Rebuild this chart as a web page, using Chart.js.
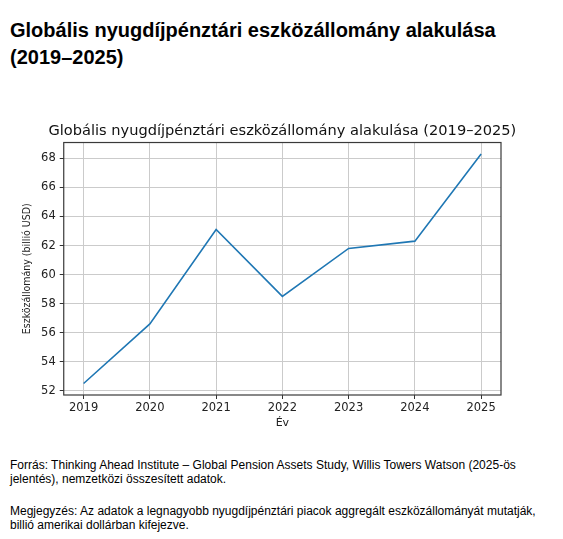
<!DOCTYPE html>
<html lang="hu">
<head>
<meta charset="utf-8">
<title>Globális nyugdíjpénztári eszközállomány alakulása (2019–2025)</title>
<script src="https://cdn.jsdelivr.net/npm/chart.js@4.4.1/dist/chart.umd.min.js"></script>
<style>
    html, body {
        margin: 0;
        padding: 0;
        background: #fff;
    }
    body {
        width: 563px;
        height: 539px;
        position: relative;
        overflow: hidden;
        font-family: "Liberation Sans", Arial, sans-serif;
        color: #000;
    }
    h1 {
        position: absolute;
        left: 10px;
        top: 17px;
        width: 545px;
        margin: 0;
        font-size: 20px;
        line-height: 27px;
        font-weight: bold;
    }
    #chart-box {
        position: absolute;
        left: 0;
        top: 115px;
        width: 563px;
        height: 320px;
    }
    .note {
        position: absolute;
        left: 10px;
        width: 543px;
        margin: 0;
        font-size: 12px;
        line-height: 14px;
    }
</style>
</head>
<body>
<h1>Globális nyugdíjpénztári eszközállomány alakulása (2019–2025)</h1>

<div id="chart-box">
    <canvas id="assetsChart"></canvas>
</div>

<p class="note" style="top: 458px;">Forrás: Thinking Ahead Institute – Global Pension Assets Study, Willis Towers Watson (2025-ös jelentés), nemzetközi összesített adatok.</p>
<p class="note" style="top: 504px;">Megjegyzés: Az adatok a legnagyobb nyugdíjpénztári piacok aggregált eszközállományát mutatják, billió amerikai dollárban kifejezve.</p>

<script>
// Data
const years = [2019, 2020, 2021, 2022, 2023, 2024, 2025];
const assets = [52.5, 56.6, 63.1, 58.5, 61.8, 62.3, 68.3];
const yTicks = [52, 54, 56, 58, 60, 62, 64, 66, 68];

// matplotlib-style 5% margins around the data
function withMargin(values) {
    const lo = Math.min(...values);
    const hi = Math.max(...values);
    const pad = (hi - lo) * 0.05;
    return [lo - pad, hi + pad];
}

const [xMin, xMax] = withMargin(years);
const [yMin, yMax] = withMargin(assets);

// Draws the full box (top and right spines too)
const frame = {
    id: 'frame',
    afterLayout(chart) {
        // centre the title over the plot area, like matplotlib does,
        // but keep its box wide enough that the text is not squeezed
        const t = chart.titleBlock;
        if (t) {
            const mid = (chart.chartArea.left + chart.chartArea.right) / 2;
            const half = Math.min(mid, chart.width - mid);
            t.left = mid - half;
            t.right = mid + half;
            t.width = t.right - t.left;
        }
    },
    afterDraw(chart) {
        const { ctx, chartArea } = chart;
        ctx.save();
        ctx.strokeStyle = '#3a3a3a';
        ctx.lineWidth = 1.2;
        ctx.strokeRect(chartArea.left, chartArea.top,
            chartArea.right - chartArea.left, chartArea.bottom - chartArea.top);
        ctx.restore();
    }
};

document.addEventListener('DOMContentLoaded', () => {
    const ctx = document.getElementById('assetsChart').getContext('2d');
    new Chart(ctx, {
        type: 'line',
        data: {
            datasets: [{
                label: 'Eszközállomány',
                data: years.map((y, i) => ({ x: y, y: assets[i] })),
                borderColor: '#1f77b4',
                borderWidth: 1.6,
                pointRadius: 0,
                tension: 0,
                fill: false
            }]
        },
        options: {
            responsive: true,
            maintainAspectRatio: false,
            animation: false,
            layout: {
                padding: { left: 21, right: 62, top: 0, bottom: 5 }
            },
            plugins: {
                legend: { display: false },
                tooltip: { enabled: false },
                title: {
                    display: true,
                    text: 'Globális nyugdíjpénztári eszközállomány alakulása (2019–2025)',
                    color: '#111',
                    font: { family: 'DejaVu Sans', size: 14.6, weight: 'normal' },
                    padding: { top: 7, bottom: 3 }
                }
            },
            scales: {
                x: {
                    type: 'linear',
                    min: xMin,
                    max: xMax,
                    afterBuildTicks: (scale) => {
                        scale.ticks = years.map(v => ({ value: v }));
                    },
                    ticks: {
                        color: '#222',
                        padding: 2,
                        font: { family: 'DejaVu Sans', size: 11.5 },
                        callback: (value) => String(value)
                    },
                    grid: {
                        color: '#cbcbcb',
                        lineWidth: 1,
                        tickLength: 4,
                        tickColor: '#333'
                    },
                    border: { display: false },
                    title: {
                        display: true,
                        text: 'Év',
                        color: '#222',
                        font: { family: 'DejaVu Sans', size: 11 },
                        padding: { top: 0, bottom: 0 }
                    }
                },
                y: {
                    type: 'linear',
                    min: yMin,
                    max: yMax,
                    afterBuildTicks: (scale) => {
                        scale.ticks = yTicks.map(v => ({ value: v }));
                    },
                    ticks: {
                        color: '#222',
                        padding: 4,
                        font: { family: 'DejaVu Sans', size: 11.5 }
                    },
                    grid: {
                        color: '#cbcbcb',
                        lineWidth: 1,
                        tickLength: 4,
                        tickColor: '#333'
                    },
                    border: { display: false },
                    title: {
                        display: true,
                        text: 'Eszközállomány (billió USD)',
                        color: '#222',
                        font: { family: '"DejaVu Sans Condensed", "DejaVu Sans"', size: 10.5 },
                        padding: { top: 0, bottom: 3.5 }
                    }
                }
            }
        },
        plugins: [frame]
    });
});
</script>
</body>
</html>
